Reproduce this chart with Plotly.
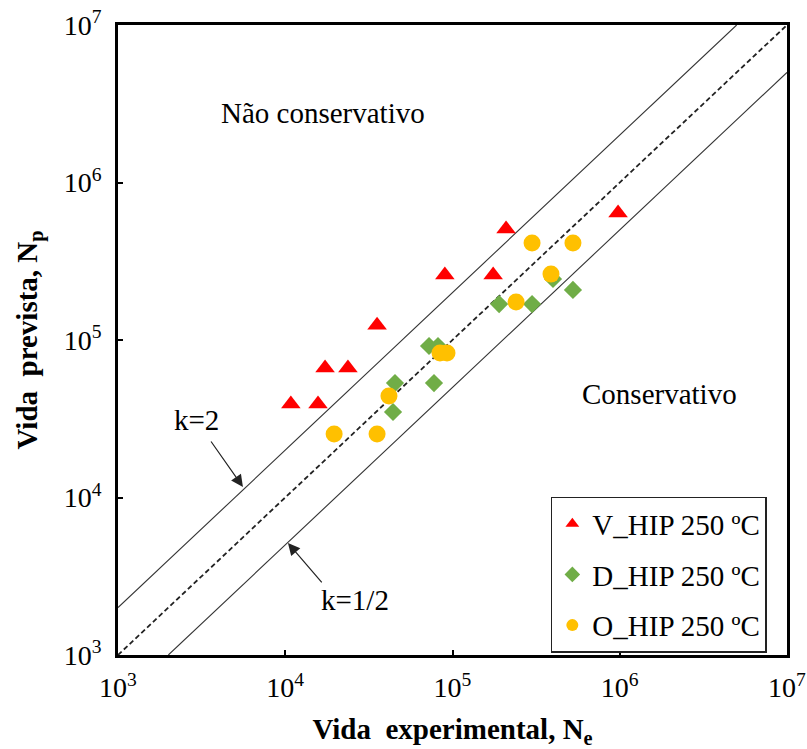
import plotly.graph_objects as go

# ---- data ----
v_x = [1.08e4, 1.57e4, 1.73e4, 2.37e4, 3.54e4, 9.0e4, 1.75e5, 2.09e5, 9.77e5]
v_y = [3.93e4, 3.93e4, 6.64e4, 6.64e4, 1.24e5, 2.59e5, 2.59e5, 5.07e5, 6.4e5]

d_x = [4.53e4, 4.41e4, 7.75e4, 7.24e4, 8.19e4, 1.90e5, 2.99e5, 3.99e5, 5.25e5]
d_y = [5.33e4, 3.49e4, 5.33e4, 9.16e4, 9.16e4, 1.69e5, 1.69e5, 2.44e5, 2.08e5]

o_x = [1.96e4, 3.54e4, 4.17e4, 8.42e4, 9.27e4, 2.40e5, 2.99e5, 5.25e5, 3.88e5]
o_y = [2.53e4, 2.53e4, 4.41e4, 8.27e4, 8.27e4, 1.74e5, 4.13e5, 4.13e5, 2.62e5]

line_k2_x = [1e3, 5e6]
line_k2_y = [2e3, 1e7]
line_k1_x = [1e3, 1e7]
line_k1_y = [1e3, 1e7]
line_kh_x = [2e3, 1e7]
line_kh_y = [1e3, 5e6]

tick_vals = [1e3, 1e4, 1e5, 1e6, 1e7]
tick_text = ["10<sup>3</sup>", "10<sup>4</sup>", "10<sup>5</sup>", "10<sup>6</sup>", "10<sup>7</sup>"]

series_names = ["V_HIP 250 ºC", "D_HIP 250 ºC", "O_HIP 250 ºC"]

FONT = "Liberation Serif, Times New Roman, serif"

fig = go.Figure()

fig.add_trace(go.Scatter(x=line_k2_x, y=line_k2_y, mode="lines",
                         line=dict(color="#333333", width=1.1), showlegend=False, hoverinfo="skip"))
fig.add_trace(go.Scatter(x=line_kh_x, y=line_kh_y, mode="lines",
                         line=dict(color="#333333", width=1.1), showlegend=False, hoverinfo="skip"))
fig.add_trace(go.Scatter(x=line_k1_x, y=line_k1_y, mode="lines",
                         line=dict(color="#222222", width=1.8, dash="5px,3px"), showlegend=False, hoverinfo="skip"))

fig.add_trace(go.Scatter(x=v_x, y=v_y, mode="markers", name=series_names[0], legendgroup="v",
                         marker=dict(symbol="triangle-up", size=17, color="#FF0000")))
fig.add_trace(go.Scatter(x=d_x, y=d_y, mode="markers", name=series_names[1], legendgroup="d",
                         marker=dict(symbol="diamond", size=14, color="#70AD47")))
fig.add_trace(go.Scatter(x=o_x, y=o_y, mode="markers", name=series_names[2], legendgroup="o",
                         marker=dict(symbol="circle", size=17, color="#FFC000")))

axis_common = dict(
    type="log", tickvals=tick_vals, ticktext=tick_text,
    showgrid=False, zeroline=False, automargin=False,
    showline=True, linecolor="black", linewidth=2.5, mirror=True,
    ticks="inside", ticklen=5, tickwidth=2, tickcolor="black",
    tickfont=dict(family=FONT, size=28, color="black"),
)

fig.update_xaxes(range=[3, 7], **axis_common, ticklabelstandoff=6,
                 title=dict(text="<b>Vida  experimental, N<sub>e</sub></b>",
                            font=dict(family=FONT, size=29, color="black"), standoff=24))
fig.update_yaxes(range=[3, 7], **axis_common, ticklabelstandoff=8,
                 title=dict(text="<b>Vida  prevista, N<sub>p</sub></b>",
                            font=dict(family=FONT, size=29, color="black"), standoff=18))

anns = [
    dict(x=4.226, y=6.441, text="Não conservativo", showarrow=False),
    dict(x=6.235, y=4.657, text="Conservativo", showarrow=False),
    dict(x=3.472, y=4.492, text="k=2", showarrow=False),
    dict(x=4.417, y=3.349, text="k=1/2", showarrow=False),
]
for a in anns:
    fig.add_annotation(xref="x", yref="y", font=dict(family=FONT, size=29, color="black"), **a)

fig.add_annotation(x=3.747, y=4.067, ax=3.55, ay=4.365, xref="x", yref="y", axref="x", ayref="y",
                   text="", showarrow=True, arrowhead=2, arrowsize=2, arrowwidth=1.2, arrowcolor="#222222")
fig.add_annotation(x=4.016, y=3.711, ax=4.226, ay=3.451, xref="x", yref="y", axref="x", ayref="y",
                   text="", showarrow=True, arrowhead=2, arrowsize=2, arrowwidth=1.2, arrowcolor="#222222")

fig.update_layout(
    width=807, height=749,
    margin=dict(l=118, r=20, t=25, b=94, autoexpand=False),
    plot_bgcolor="white", paper_bgcolor="white",
    font=dict(family=FONT, color="black"),
    legend=dict(x=0.647, y=0.251, xanchor="left", yanchor="top",
                bordercolor="#222222", borderwidth=1.5, bgcolor="white",
                font=dict(family=FONT, size=29, color="black"),
                traceorder="grouped", tracegroupgap=10, itemsizing="constant"),
)

fig.write_html("out.html")
